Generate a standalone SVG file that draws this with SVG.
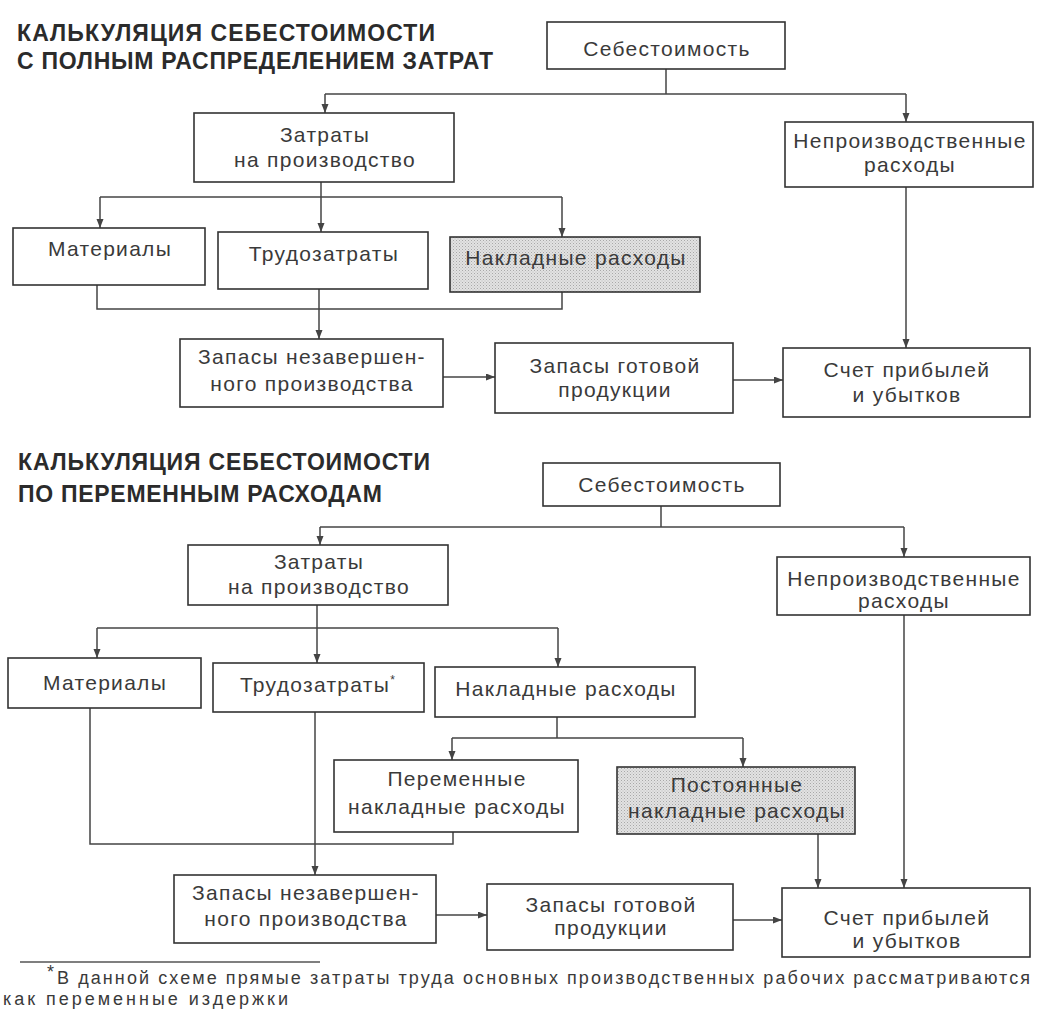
<svg xmlns="http://www.w3.org/2000/svg" width="1037" height="1012" viewBox="0 0 1037 1012">
<style>
.title{font-family:"Liberation Sans",Arial,sans-serif;font-weight:bold;font-size:23px;fill:#2b2b2b}
.box{fill:#ffffff;stroke:#333333;stroke-width:1.6}
.shade{fill:url(#dots);stroke:#333333;stroke-width:1.6}
.lbl{font-family:"Liberation Sans",Arial,sans-serif;font-size:21px;letter-spacing:1.3px;fill:#3a3a3a;text-anchor:middle}
.con{fill:none;stroke:#444444;stroke-width:1.5}
.arr{marker-end:url(#ah)}
.note{font-family:"Liberation Sans",Arial,sans-serif;font-size:18px;fill:#3a3a3a}
</style>
<defs>
<marker id="ah" markerUnits="userSpaceOnUse" markerWidth="10" markerHeight="8" refX="9" refY="3.5" orient="auto">
<path d="M0,0 L9,3.5 L0,7 z" fill="#444444"/>
</marker>
<pattern id="dots" width="3" height="3" patternUnits="userSpaceOnUse">
<rect width="3" height="3" fill="#e2e2e2"/>
<rect x="0" y="0" width="1" height="1" fill="#a8a8a8"/>
<rect x="1.5" y="1.5" width="1" height="1" fill="#bdbdbd"/>
</pattern>
</defs>
<rect width="1037" height="1012" fill="#ffffff"/>

<text class="title" x="17" y="41" textLength="418" lengthAdjust="spacing">КАЛЬКУЛЯЦИЯ СЕБЕСТОИМОСТИ</text>
<text class="title" x="17" y="69" textLength="476" lengthAdjust="spacing">С ПОЛНЫМ РАСПРЕДЕЛЕНИЕМ ЗАТРАТ</text>
<text class="title" x="18" y="470" textLength="412" lengthAdjust="spacing">КАЛЬКУЛЯЦИЯ СЕБЕСТОИМОСТИ</text>
<text class="title" x="18" y="502" textLength="364" lengthAdjust="spacing">ПО ПЕРЕМЕННЫМ РАСХОДАМ</text>

<g id="connectors">
<path class="con" d="M666,69 V94"/>
<path class="con" d="M325,94 H906"/>
<path class="con arr" d="M325,94 V113"/>
<path class="con arr" d="M906,94 V122"/>
<path class="con arr" d="M321,182 V232"/>
<path class="con" d="M100,197 H562"/>
<path class="con arr" d="M100,197 V228"/>
<path class="con arr" d="M562,197 V237"/>
<path class="con" d="M97,285 V309 H562 V292"/>
<path class="con arr" d="M319,309 V339"/>
<path class="con" d="M319,289 V309"/>
<path class="con arr" d="M906,187 V348"/>
<path class="con arr" d="M443,377 H495"/>
<path class="con arr" d="M733,380 H783"/>

<path class="con" d="M661,506 V527"/>
<path class="con" d="M320,527 H904"/>
<path class="con arr" d="M320,527 V545"/>
<path class="con arr" d="M904,527 V557"/>
<path class="con arr" d="M317,605 V663"/>
<path class="con" d="M97,628 H558"/>
<path class="con arr" d="M97,628 V658"/>
<path class="con arr" d="M558,628 V667"/>
<path class="con" d="M557,717 V738"/>
<path class="con" d="M452,738 H743"/>
<path class="con arr" d="M452,738 V760"/>
<path class="con arr" d="M743,738 V767"/>
<path class="con" d="M90,708 V844 H453 V832"/>
<path class="con arr" d="M315,712 V875"/>
<path class="con arr" d="M818,834 V888"/>
<path class="con arr" d="M904,615 V888"/>
<path class="con arr" d="M436,915 H487"/>
<path class="con arr" d="M733,920 H782"/>
</g>

<g id="n1"><rect class="box" x="547" y="22" width="238" height="47"/><text class="lbl" x="667" y="56">Себестоимость</text></g>
<g id="n2"><rect class="box" x="194" y="113" width="260" height="69"/><text class="lbl" x="325" y="142">Затраты</text><text class="lbl" x="325" y="167">на производство</text></g>
<g id="n3"><rect class="box" x="785" y="122" width="248" height="65"/><text class="lbl" x="910" y="148">Непроизводственные</text><text class="lbl" x="910" y="172">расходы</text></g>
<g id="n4"><rect class="box" x="13" y="228" width="192" height="57"/><text class="lbl" x="110" y="256">Материалы</text></g>
<g id="n5"><rect class="box" x="218" y="232" width="210" height="57"/><text class="lbl" x="324" y="261">Трудозатраты</text></g>
<g id="n6"><rect class="shade" x="450" y="237" width="250" height="55"/><text class="lbl" x="576" y="265">Накладные расходы</text></g>
<g id="n7"><rect class="box" x="180" y="339" width="263" height="68"/><text class="lbl" x="312" y="364">Запасы незавершен-</text><text class="lbl" x="312" y="391">ного производства</text></g>
<g id="n8"><rect class="box" x="495" y="343" width="238" height="70"/><text class="lbl" x="615" y="373">Запасы готовой</text><text class="lbl" x="615" y="397">продукции</text></g>
<g id="n9"><rect class="box" x="783" y="348" width="247" height="69"/><text class="lbl" x="907" y="377">Счет прибылей</text><text class="lbl" x="907" y="402">и убытков</text></g>

<g id="n10"><rect class="box" x="543" y="463" width="237" height="43"/><text class="lbl" x="662" y="492">Себестоимость</text></g>
<g id="n11"><rect class="box" x="188" y="545" width="260" height="60"/><text class="lbl" x="319" y="569">Затраты</text><text class="lbl" x="319" y="594">на производство</text></g>
<g id="n12"><rect class="box" x="777" y="557" width="253" height="58"/><text class="lbl" x="904" y="586">Непроизводственные</text><text class="lbl" x="904" y="608">расходы</text></g>
<g id="n13"><rect class="box" x="8" y="658" width="193" height="50"/><text class="lbl" x="105" y="690">Материалы</text></g>
<g id="n14"><rect class="box" x="213" y="663" width="211" height="49"/><text class="lbl" x="318" y="692">Трудозатраты<tspan font-size="12" dy="-8">*</tspan></text></g>
<g id="n15"><rect class="box" x="435" y="667" width="260" height="50"/><text class="lbl" x="566" y="696">Накладные расходы</text></g>
<g id="n16"><rect class="box" x="334" y="760" width="244" height="72"/><text class="lbl" x="457" y="786">Переменные</text><text class="lbl" x="457" y="814">накладные расходы</text></g>
<g id="n17"><rect class="shade" x="617" y="767" width="238" height="67"/><text class="lbl" x="737" y="792">Постоянные</text><text class="lbl" x="737" y="818">накладные расходы</text></g>
<g id="n18"><rect class="box" x="174" y="875" width="262" height="68"/><text class="lbl" x="306" y="900">Запасы незавершен-</text><text class="lbl" x="306" y="926">ного производства</text></g>
<g id="n19"><rect class="box" x="487" y="884" width="246" height="66"/><text class="lbl" x="611" y="912">Запасы готовой</text><text class="lbl" x="611" y="935">продукции</text></g>
<g id="n20"><rect class="box" x="782" y="888" width="248" height="69"/><text class="lbl" x="907" y="925">Счет прибылей</text><text class="lbl" x="907" y="948">и убытков</text></g>

<path d="M20,962 H320" stroke="#555555" stroke-width="1.3"/>
<text class="note" x="47" y="978" font-size="12">*</text>
<text class="note" x="57" y="984" textLength="973" lengthAdjust="spacing">В данной схеме прямые затраты труда основных производственных рабочих рассматриваются</text>
<text class="note" x="3" y="1005" textLength="285" lengthAdjust="spacing">как переменные издержки</text>
</svg>
